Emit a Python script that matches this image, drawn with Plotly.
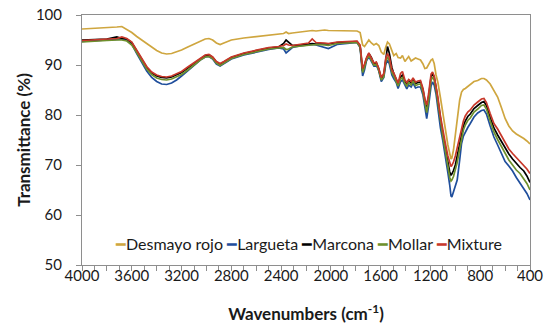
import plotly.graph_objects as go

# ---------------- data ----------------
series_names = ["Desmayo rojo", "Largueta", "Marcona", "Mollar", "Mixture"]
series_colors = ["#CFA63F", "#1F4E9C", "#000000", "#6E902C", "#C8382A"]

wavenumbers = [4000, 3900, 3800, 3720, 3680, 3640, 3600, 3560, 3520, 3480, 3440, 3400, 3360, 3320,
               3280, 3240, 3200, 3150, 3100, 3050, 3010, 2980, 2950, 2920, 2890, 2860, 2800, 2700,
               2600, 2500, 2420, 2380, 2360, 2340, 2310, 2250, 2180, 2150, 2120, 2050, 2020, 1950,
               1850, 1790, 1765, 1745, 1730, 1715, 1695, 1675, 1655, 1635, 1615, 1595, 1575, 1560,
               1545, 1530, 1510, 1495, 1475, 1460, 1440, 1425, 1405, 1390, 1375, 1355, 1340, 1320,
               1300, 1280, 1260, 1245, 1230, 1215, 1195, 1183, 1170, 1155, 1140, 1120, 1100, 1080,
               1060, 1045, 1035, 1028, 1015, 1000, 985, 965, 950, 935, 920, 900, 880, 850, 820, 790,
               770, 750, 720, 690, 660, 630, 600, 570, 540, 510, 480, 450, 425, 400]

desmayo_rojo = [97.2, 97.3, 97.4, 97.6, 97.7, 97.1, 96.5, 95.7, 95.0, 94.3, 93.6, 92.9, 92.4, 92.2,
                92.3, 92.6, 93.0, 93.6, 94.2, 94.8, 95.2, 95.3, 95.0, 94.4, 94.1, 94.4, 95.0, 95.4,
                95.7, 96.0, 96.1, 96.3, 96.6, 96.3, 96.4, 96.6, 96.8, 96.9, 96.8, 97.0, 96.9, 96.9,
                96.9, 96.8, 96.5, 94.0, 93.7, 94.2, 95.0, 94.4, 94.0, 94.3, 93.9, 92.6, 92.1, 93.5,
                94.6, 94.2, 92.8, 91.9, 92.3, 91.5, 91.4, 91.9, 90.7, 91.2, 91.7, 90.8, 91.0, 91.4,
                91.2, 91.0, 90.2, 89.3, 89.4, 90.2, 91.0, 91.2, 90.3, 88.0, 86.5, 83.5, 80.0, 77.0,
                74.0, 72.3, 71.2, 71.4, 73.0, 76.0, 79.0, 83.0, 84.6, 85.1, 85.3, 85.7, 86.2, 86.7,
                86.9, 87.3, 87.3, 87.0, 86.2, 85.0, 83.6, 81.5, 79.3, 77.8, 76.8, 76.2, 75.8, 75.3,
                74.8, 74.2]

largueta = [94.7, 94.9, 95.0, 95.1, 95.2, 95.0, 94.2, 92.3, 90.5, 88.8, 87.5, 86.7, 86.2, 86.1,
            86.4, 87.0, 87.8, 88.9, 90.0, 91.0, 91.6, 91.7, 91.2, 90.2, 89.8, 90.3, 91.2, 92.0,
            92.6, 93.1, 93.4, 93.2, 92.4, 92.8, 93.5, 93.8, 94.0, 94.1, 94.0, 93.6, 93.3, 94.1,
            94.4, 94.5, 93.5, 87.8, 89.0, 90.8, 91.7, 90.8, 89.8, 90.0, 88.8, 86.7, 87.5, 90.0,
            91.0, 90.2, 88.0, 87.3, 86.5, 85.3, 86.7, 87.0, 85.8, 85.2, 86.0, 85.6, 86.4, 85.4,
            85.6, 85.6, 84.0, 81.5, 79.3, 81.8, 85.8, 86.6, 86.0, 84.2, 81.2, 77.5, 74.8, 72.0,
            68.5, 66.0, 63.8, 63.6, 64.5, 65.6, 67.0, 71.0, 74.3, 75.8, 76.6, 77.5, 78.3, 79.6,
            80.4, 80.9, 81.0, 80.2, 77.8, 75.6, 74.0, 72.3, 70.7, 69.8, 68.8, 67.5, 66.4, 65.3,
            64.3, 63.0]

marcona = [95.0, 95.1, 95.2, 95.6, 95.3, 95.2, 94.5, 92.8, 91.0, 89.5, 88.4, 87.8, 87.5, 87.4,
           87.6, 88.0, 88.5, 89.4, 90.3, 91.3, 91.9, 92.0, 91.5, 90.6, 90.1, 90.6, 91.5, 92.3,
           92.9, 93.4, 93.6, 94.3, 95.0, 94.6, 93.9, 94.0, 94.2, 94.3, 94.2, 94.3, 94.2, 94.5,
           94.7, 94.7, 93.8, 88.8, 89.8, 91.2, 92.3, 91.5, 90.3, 90.5, 89.2, 87.2, 88.0, 91.5,
           93.7, 92.3, 89.5, 88.3, 87.0, 86.2, 87.6, 88.0, 86.7, 86.2, 86.9, 86.4, 87.2, 86.3,
           86.5, 86.6, 85.0, 82.8, 81.0, 83.5, 87.6, 88.3, 87.6, 85.5, 82.7, 78.7, 76.0, 73.3,
           70.3, 68.6, 68.0, 68.2, 68.9, 70.0, 71.8, 74.3, 76.2, 77.8, 78.8, 79.7, 80.2, 81.3,
           81.9, 82.5, 82.7, 81.9, 79.5, 77.4, 76.0, 74.7, 73.3, 72.2, 71.2, 70.3, 69.5, 68.8,
           67.8, 66.5]

mollar = [94.6, 94.8, 94.9, 95.0, 95.0, 94.8, 94.0, 92.5, 90.8, 89.2, 88.1, 87.4, 87.1, 87.0,
          87.2, 87.6, 88.1, 89.0, 90.0, 91.0, 91.6, 91.7, 91.3, 90.4, 89.9, 90.4, 91.3, 92.1,
          92.7, 93.2, 93.4, 93.5, 93.1, 93.2, 93.6, 93.8, 94.0, 94.1, 94.1, 94.0, 93.9, 94.3,
          94.5, 94.5, 93.6, 88.5, 89.5, 91.0, 92.0, 91.0, 90.0, 90.2, 88.9, 87.0, 87.6, 90.5,
          91.7, 90.8, 88.5, 87.8, 86.8, 85.8, 87.2, 87.5, 86.3, 85.8, 86.5, 86.0, 86.8, 85.9,
          86.1, 86.2, 84.5, 82.0, 80.5, 82.8, 87.0, 87.6, 87.0, 85.0, 82.3, 78.3, 75.6, 72.8,
          69.7, 67.5, 66.8, 67.0, 67.7, 68.9, 70.5, 73.2, 75.2, 77.0, 78.0, 78.9, 79.4, 80.6,
          81.2, 81.9, 82.0, 81.2, 78.8, 76.6, 75.1, 73.7, 72.3, 71.0, 70.0, 69.0, 68.3, 67.3,
          66.3, 65.0]

mixture = [94.9, 95.0, 95.1, 95.3, 95.6, 95.3, 94.6, 93.0, 91.2, 89.7, 88.6, 88.0, 87.7, 87.6,
           87.8, 88.2, 88.7, 89.6, 90.5, 91.4, 92.0, 92.1, 91.6, 90.7, 90.3, 90.7, 91.6, 92.4,
           93.0, 93.5, 93.7, 93.9, 94.2, 94.0, 93.9, 94.1, 94.4, 95.2, 94.5, 94.4, 94.3, 94.6,
           94.8, 94.8, 94.0, 89.3, 90.2, 91.4, 92.4, 91.4, 90.4, 90.6, 89.3, 87.5, 88.3, 91.2,
           92.3, 91.5, 89.0, 88.4, 87.2, 86.4, 88.3, 88.7, 87.0, 86.5, 87.1, 86.7, 87.4, 86.6,
           86.8, 86.9, 85.3, 83.2, 82.0, 84.2, 88.2, 88.6, 87.8, 86.0, 83.5, 79.8, 76.8, 74.3,
           71.8, 70.2, 69.7, 69.9, 70.6, 71.8, 73.5, 75.8, 77.5, 78.8, 79.8, 80.6, 81.0, 82.0,
           82.6, 83.2, 83.3, 82.5, 80.3, 78.3, 77.2, 75.8, 74.3, 73.2, 72.3, 71.5, 70.7, 70.0,
           69.2, 68.3]

x_tick_values = [4000, 3600, 3200, 2800, 2400, 2000, 1600, 1200, 800, 400]
y_tick_values = [50, 60, 70, 80, 90, 100]

all_series = [desmayo_rojo, largueta, marcona, mollar, mixture]

# ---------------- figure ----------------
FONT = "Lato"
AXIS_GREY = "#8E8E8E"

fig = go.Figure()
for name, color, values in zip(series_names, series_colors, all_series):
    fig.add_trace(go.Scatter(x=wavenumbers, y=values, mode="lines", name=name,
                             line=dict(color=color, width=1.7), showlegend=False))

legend_text = " ".join(
    f"<span style='color:{c}'>━</span>{n}" for n, c in zip(series_names, series_colors)
)
fig.add_annotation(text=legend_text, xref="paper", yref="paper", x=0.505, y=0.088,
                   xanchor="center", yanchor="middle", showarrow=False,
                   font=dict(family=FONT, size=16, color="#1a1a1a"))

fig.update_layout(
    template="none",
    width=550, height=332,
    margin=dict(l=82, r=20, t=15, b=67, autoexpand=False),
    paper_bgcolor="white", plot_bgcolor="white",
    font=dict(family=FONT, size=14, color="#1a1a1a"),
)
fig.update_xaxes(
    range=[4000, 400], tickvals=x_tick_values, ticks="outside", ticklen=5,
    tickcolor=AXIS_GREY, showline=True, linecolor=AXIS_GREY, linewidth=1, mirror=True,
    showgrid=False, zeroline=False, tickfont=dict(size=15), automargin=False,
    ticklabelstandoff=-8, ticklabeloverflow="allow",
    minor=dict(dtick=100, ticks="outside", ticklen=5, tickcolor=AXIS_GREY, showgrid=False),
    title=dict(text="<b>Wavenumbers (cm<sup>-1</sup>)</b>", font=dict(size=17), standoff=25),
)
fig.update_yaxes(
    range=[50, 100], tickvals=y_tick_values, ticks="outside", ticklen=5,
    tickcolor=AXIS_GREY, showline=True, linecolor=AXIS_GREY, linewidth=1, mirror=True,
    showgrid=False, zeroline=False, tickfont=dict(size=15), ticklabelstandoff=11,
    ticklabeloverflow="allow", automargin=False,
    title=dict(text="<b>Transmittance (%)</b>", font=dict(size=17), standoff=0),
)

# remove the browser's default 8px body margin so the figure sits at the page corner
fig.write_html("out.html",
               config={"displayModeBar": False, "staticPlot": True},
               post_script="document.body.style.margin='0';document.body.style.overflow='hidden';")
